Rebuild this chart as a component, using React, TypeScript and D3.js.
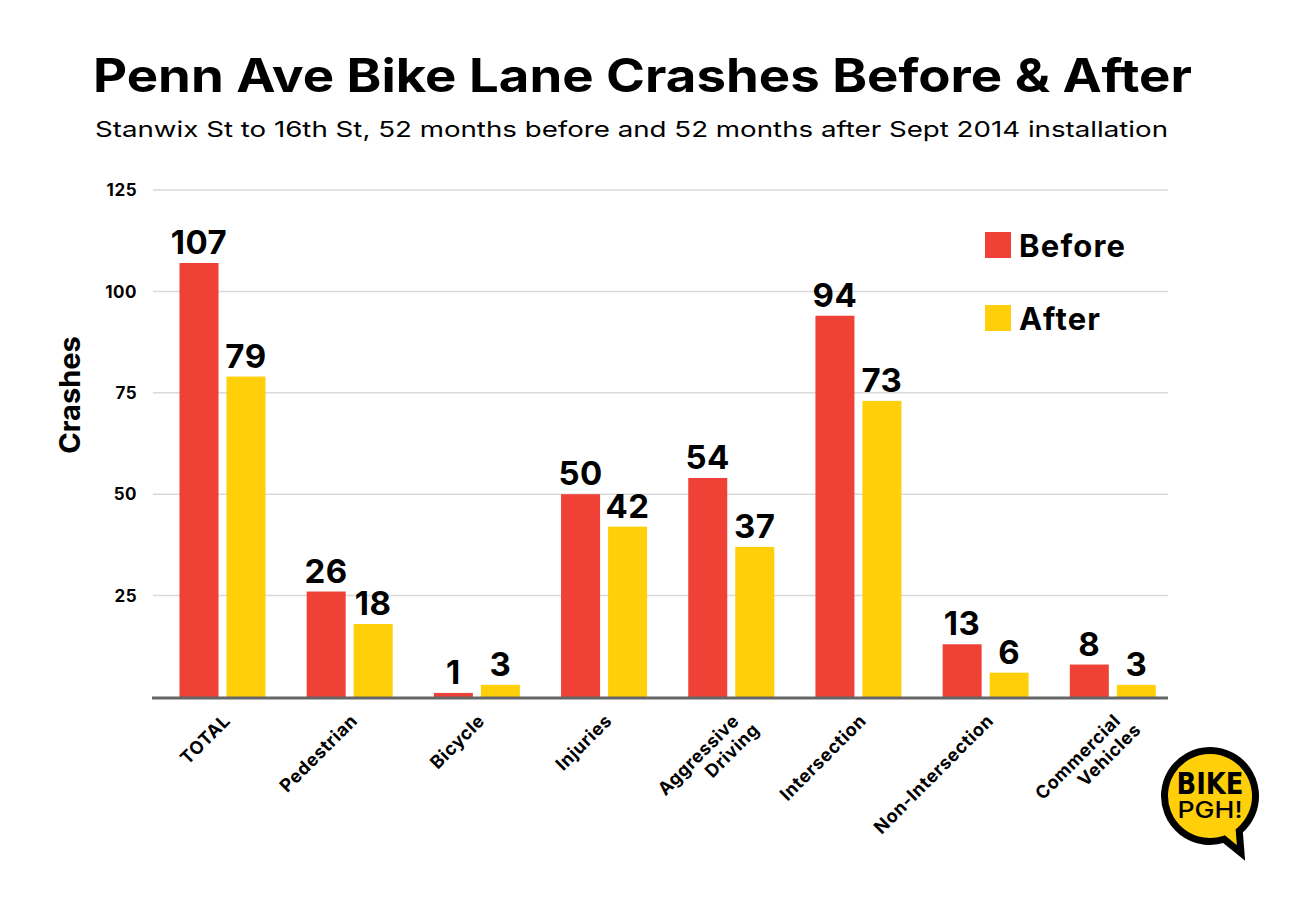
import React from "react";
import * as d3 from "d3";

const categories = ["TOTAL", "Pedestrian", "Bicycle", "Injuries", "Aggressive\nDriving", "Intersection", "Non-Intersection", "Commercial\nVehicles"];
const before = [107, 26, 1, 50, 54, 94, 13, 8];
const after = [79, 18, 3, 42, 37, 73, 6, 3];
const seriesNames = ["Before", "After"];
const yTicks = [25, 50, 75, 100, 125];

const RED = "#EF4136";
const YELLOW = "#FFCF0A";
const FONT = "Inter, 'Open Sans', sans-serif";
const NARROW = "'Liberation Sans Narrow','DejaVu Sans Condensed',sans-serif";

export default function App() {
  const W = 1313, H = 900;
  const y = d3.scaleLinear().domain([0, 125]).range([697, 190]);
  const x0 = d3.scaleBand<string>().domain(categories).range([158.5, 1176]).padding(0);
  const x1 = d3.scaleBand<string>().domain(seriesNames).range([21, 107]).paddingInner(0.17);
  const seriesVals = [before, after];
  const colors = [RED, YELLOW];

  // logo bubble
  const cx = 1210, cy = 796, r = 45.5;
  const a0 = (72 * Math.PI) / 180, a1 = ((50 + 360) * Math.PI) / 180;
  const bubble = d3.path();
  bubble.moveTo(cx + r * Math.cos(a0), cy + r * Math.sin(a0));
  bubble.arc(cx, cy, r, a0, a1, false);
  bubble.lineTo(1241, 853);
  bubble.closePath();

  return (
    <div style={{ position: "absolute", left: 0, top: 0 }}>
      <svg width={W} height={H} style={{ display: "block", background: "#fff" }}>
        <text x={93} y={92} fontFamily={FONT} fontWeight={700} fontSize={46} fill="#000" textLength={1099} lengthAdjust="spacingAndGlyphs">
          Penn Ave Bike Lane Crashes Before &amp; After
        </text>
        <text x={95} y={137} fontFamily={FONT} fontWeight={400} fontSize={22} fill="#000" textLength={1073} lengthAdjust="spacingAndGlyphs">
          Stanwix St to 16th St, 52 months before and 52 months after Sept 2014 installation
        </text>

        {yTicks.map((t) => (
          <g key={t}>
            <line x1={153} x2={1168} y1={y(t)} y2={y(t)} stroke="#d9d9d9" strokeWidth={1.5} />
            <text x={137} y={y(t)} dy="0.36em" textAnchor="end" fontFamily={FONT} fontWeight={700} fontSize={17} letterSpacing={0.5}>
              {t}
            </text>
          </g>
        ))}

        <text transform={`translate(80,395) rotate(-90)`} textAnchor="middle" fontFamily={FONT} fontWeight={700} fontSize={29}>
          Crashes
        </text>

        {categories.map((c, i) => (
          <g key={c} transform={`translate(${x0(c)},0)`}>
            {seriesNames.map((s, j) => {
              const v = seriesVals[j][i];
              const bx = x1(s)!;
              return (
                <g key={s}>
                  <rect x={bx} y={y(v)} width={x1.bandwidth()} height={y(0) - y(v)} fill={colors[j]} />
                  <text x={bx + x1.bandwidth() / 2} y={y(v) - 9} textAnchor="middle" fontFamily={FONT} fontWeight={700} fontSize={33} letterSpacing={0.5}>
                    {v}
                  </text>
                </g>
              );
            })}
          </g>
        ))}

        <line x1={152} x2={1168} y1={y(0) + 1} y2={y(0) + 1} stroke="#666" strokeWidth={3} />

        {categories.map((c) => {
          const lines = c.split("\n");
          const ax = x0(c)! + 64;
          const ay = 713;
          return (
            <text key={c} transform={`translate(${ax},${ay}) rotate(-45)`} textAnchor="end" fontFamily={FONT} fontWeight={700} fontSize={18} letterSpacing={0.6}>
              {lines.map((l, k) => (
                <tspan key={k} x={k === 0 ? 0 : 8} dy={k === 0 ? "0.7em" : "1.15em"}>
                  {l}
                </tspan>
              ))}
            </text>
          );
        })}

        {seriesNames.map((s, j) => (
          <g key={s} transform={`translate(985,${232 + j * 73})`}>
            <rect x={0} y={0} width={26} height={26} fill={colors[j]} />
            <text x={34} y={25} fontFamily={FONT} fontWeight={700} fontSize={31} letterSpacing={1.2}>
              {s}
            </text>
          </g>
        ))}

        <g>
          <path d={bubble.toString()} fill={YELLOW} stroke="#000" strokeWidth={7} strokeLinejoin="miter" />
          <text x={cx} y={794} textAnchor="middle" fontFamily={NARROW} fontWeight={700} fontSize={31} textLength={67} lengthAdjust="spacingAndGlyphs">
            BIKE
          </text>
          <text x={cx} y={818} textAnchor="middle" fontFamily={FONT} fontWeight={500} fontSize={23} textLength={65} lengthAdjust="spacingAndGlyphs">
            PGH!
          </text>
        </g>
      </svg>
    </div>
  );
}
